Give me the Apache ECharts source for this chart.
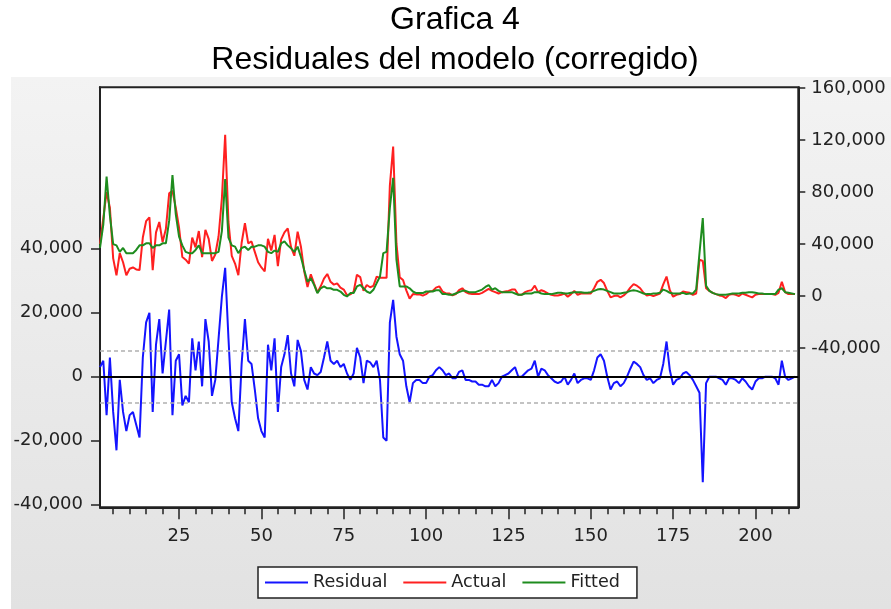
<!DOCTYPE html>
<html>
<head>
<meta charset="utf-8">
<script src="https://cdn.jsdelivr.net/npm/echarts@6/dist/echarts.min.js"></script>
<style>html,body{margin:0;padding:0;background:#fff}#c{width:891px;height:609px}</style>
</head>
<body>
<div id="c"></div>
<script>
// values in thousands
const residualK = [
3,5,-12,6,-11,-23,-1,-11,-17,-12,
-11,-15,-19,6,17,20,-11,10,18,1,
11,21,-12,5,7,-9,-6,-8,12,2,
11,-3,18,11,-6,-1,12,25,34,12,
-8,-13,-17,4,18,5,4,-4,-13,-17,
-19,10,2,12,-11,3,7,13,1,-3,
11.5,8,-1,-4,3,1,0.5,1.5,6,11,
5,4,5,3,4,1,-1,1,9,6,
-2,5,4.5,3,5,-1,-19,-20,17,24,
12.5,7,5,-3,-8,-2,-1,-1,-2,-2,
0,0.5,2,3,2,0.5,1,-0.5,-0.5,1.5,
2,-1,-1,-1.5,-1.5,-2.5,-2.5,-3,-3,-1,
-3,-2,0,0.5,1,2,3,0,0,1,
2,2.5,5,0,2.5,2,0.5,-0.5,-1.5,-2,
-1.5,0,-2.5,-1,1,-2,-1,-0.5,-0.5,-1,
2,6,7,5,0,-4,-2,-1.5,-3,-2,
0,2.5,4.7,4,3,0.5,-1,-0.5,-2,-1,
-0.5,4,11,2,-2.5,-1,-0.5,1,1.5,0.5,
-1,-3,-5,-33,-2,0,0,0,-0.5,-1,
-2.5,-0.5,-0.5,-1,-2,-0.5,-1.5,-3,-4,-1.5,
-0.5,-0.5,0,0,0,-0.5,-2.5,5,0,-1,
-0.5,0
];
const actualK = [
40,60,80,68,29,16,33,26,16,21,
22,20.5,20,45,57.6,60.6,20,49,57,41.6,
51.6,79,81,68,52.7,30,28,25,45,37.5,
50,30,51,44,27,32,46,75,124,57,
31,25,16,41,56,40.5,42,34,26,22,
19,44,35,47,23,43.6,49,52,37.7,31,
49.5,38,19,7,16.7,9.6,2.8,7.5,13.4,17,
11,8.8,9.8,6.5,5,0.7,1.3,3.3,16.4,14.6,
4,8.5,6.8,7.8,15,14,14,14,85,115,
40.5,14.4,12.4,4.4,-2,1.5,1.3,1.3,0.3,1.5,
3.5,4,6.5,7.5,3.5,2,2,0.5,1.5,4.5,
6,3,2,1.5,1.5,1.5,2.5,4,5.5,4,
3,2,3,3.5,4,5,5,1,1,3,
4,4.5,8,3,4.5,3.5,2,1,0.5,0.5,
1,2,-0.5,1.5,4,1,2,2,2,2,
6,11,12.5,10,4,-1,0,0.5,-1,0.5,
3,6.5,9.2,8,6,2.5,0.5,1,0,1,
2,9,15,4.5,-0.5,1,1.5,3.5,3,2.5,
1,2,28,27,6,4,2.5,1.5,0.5,0,
-1.5,1,1.5,1,0,2,1,0,-1,1,
1.5,1.5,1.5,1.5,1.5,1,2.5,11,3,1.5,
1.5,1.5
];
const fittedK = [
37,55,92,62,40,39,34,37,33,33,
33,35.5,39,39,40.6,40.6,37,39,39,40.6,
40.6,58,93,63,45.7,39,34,33,33,35.5,
39,33,33,33,33,33,34,50,90,45,
39,38,33,37,38,35.5,38,38,39,39,
38,34,33,35,34,40.6,42,39,36.7,34,
38,30,20,11,13.7,8.6,2.3,6,7.4,6,
6,4.8,4.8,3.5,1,-0.3,2.3,2.3,7.4,8.6,
6,3.5,2.3,4.8,10,15,33,34,68,91,
28,7.4,7.4,7.4,6,3.5,2.3,2.3,2.3,3.5,
3.5,3.5,4.5,4.5,1.5,1.5,1,1,2,3,
4,4,3,3,3,4,5,7,8.5,5,
6,4,3,3,3,3,2,1,1,2,
2,2,3,3,2,1.5,1.5,1.5,2,2.5,
2.5,2,2,2.5,3,3,3,2.5,2.5,3,
4,5,5.5,5,4,3,2,2,2,2.5,
3,4,4.5,4,3,2,1.5,1.5,2,2,
2.5,5,4,2.5,2,2,2,2.5,1.5,2,
2,5,33,60,8,4,2.5,1.5,1,1,
1,1.5,2,2,2,2.5,2.5,3,3,2.5,
2,2,1.5,1.5,1.5,1.5,5,6,3,2.5,
2,1.5
];
const seriesNames = ['Residual', 'Actual', 'Fitted'];
const stdErrK = 8.1;
const xMajorTicks = [25, 50, 75, 100, 125, 150, 175, 200];
const xMinorTicks = [5,10,15,20,30,35,40,45,55,60,65,70,80,85,90,95,105,110,115,120,130,135,140,145,155,160,165,170,180,185,190,195,205,210];
const leftTicks = [-40, -20, 0, 20, 40];
const rightTicks = [-40, 0, 40, 80, 120, 160];
const titleLines = ['Grafica 4', 'Residuales del modelo (corregido)'];

const obs = residualK.map((_, i) => i + 1);
const pairs = arr => obs.map((o, i) => [o, arr[i]]);
const fmt = v => (v * 1000).toLocaleString('en-US');

const labelFont = { fontFamily: 'DejaVu Sans', fontSize: 18, color: '#222' };

const chart = echarts.init(document.getElementById('c'), null, { renderer: 'canvas' });
chart.setOption({
  animation: false,
  backgroundColor: '#fff',
  graphic: [{
    type: 'rect', z: -10, silent: true,
    shape: { x: 11, y: 77, width: 880, height: 532 },
    style: { fill: new echarts.graphic.LinearGradient(0, 0, 0, 1, [
      { offset: 0, color: '#f3f3f3' }, { offset: 1, color: '#e2e2e2' }]) }
  }],
  title: {
    text: titleLines.join('\n'),
    left: 450, top: -5, textAlign: 'center',
    textStyle: { fontFamily: 'Liberation Sans', fontSize: 32, fontWeight: 'normal', lineHeight: 40, color: '#000' }
  },
  legend: {
    data: seriesNames,
    left: 258, top: 567,
    icon: 'rect', itemWidth: 43, itemHeight: 2, itemGap: 16,
    padding: [6, 17, 6, 7],
    backgroundColor: '#fff', borderColor: '#222', borderWidth: 1.5,
    textStyle: { fontFamily: 'DejaVu Sans', fontSize: 17.6, color: '#222', lineHeight: 19 }
  },
  grid: {
    left: 100, right: 92.7, top: 87.3, bottom: 101.7,
    show: true, backgroundColor: '#fff', borderColor: '#222', borderWidth: 2
  },
  xAxis: [{
    type: 'value', min: 1, max: 213, position: 'bottom',
    axisLine: { show: true, onZero: false, lineStyle: { color: '#222', width: 2 } },
    axisTick: { show: true, length: 12, customValues: xMajorTicks, lineStyle: { color: '#222', width: 1.5 } },
    axisLabel: { customValues: xMajorTicks, margin: 20, ...labelFont },
    splitLine: { show: false }
  }, {
    type: 'value', min: 1, max: 213, position: 'bottom',
    axisLine: { show: false, onZero: false },
    axisTick: { show: true, length: 7, customValues: xMinorTicks, lineStyle: { color: '#222', width: 1.5 } },
    axisLabel: { show: false },
    splitLine: { show: false }
  }],
  yAxis: [{
    type: 'value', position: 'left', min: -40.81, max: 90.44,
    axisLine: { show: true, onZero: false, lineStyle: { color: '#222', width: 2 } },
    axisTick: { show: true, length: 9, customValues: leftTicks, lineStyle: { color: '#222', width: 1.5 } },
    axisLabel: { customValues: leftTicks, formatter: fmt, margin: 17, ...labelFont },
    splitLine: { show: false }
  }, {
    type: 'value', position: 'right', min: -162.5, max: 160.6,
    axisLine: { show: true, onZero: false, lineStyle: { color: '#222', width: 2 } },
    axisTick: { show: true, length: 7, customValues: rightTicks, lineStyle: { color: '#222', width: 1.5 } },
    axisLabel: { customValues: rightTicks, formatter: fmt, margin: 13, ...labelFont },
    splitLine: { show: false }
  }],
  series: [{
    name: seriesNames[0], type: 'line', xAxisIndex: 0, yAxisIndex: 0,
    data: pairs(residualK), showSymbol: false, symbol: 'none',
    lineStyle: { color: '#1414ff', width: 2 }, itemStyle: { color: '#1414ff' },
    markLine: {
      silent: true, symbol: 'none', label: { show: false }, animation: false,
      data: [
        { yAxis: 0, lineStyle: { color: '#000', width: 2, type: 'solid' } },
        { yAxis: stdErrK, lineStyle: { color: '#b0b0b0', width: 1.5, type: [4, 3] } },
        { yAxis: -stdErrK, lineStyle: { color: '#b0b0b0', width: 1.5, type: [4, 3] } }
      ]
    }
  }, {
    name: seriesNames[1], type: 'line', xAxisIndex: 0, yAxisIndex: 1,
    data: pairs(actualK), showSymbol: false, symbol: 'none',
    lineStyle: { color: '#ff2020', width: 2 }, itemStyle: { color: '#ff2020' }
  }, {
    name: seriesNames[2], type: 'line', xAxisIndex: 0, yAxisIndex: 1,
    data: pairs(fittedK), showSymbol: false, symbol: 'none',
    lineStyle: { color: '#1e8c1e', width: 2 }, itemStyle: { color: '#1e8c1e' }
  }]
});
</script>
</body>
</html>
